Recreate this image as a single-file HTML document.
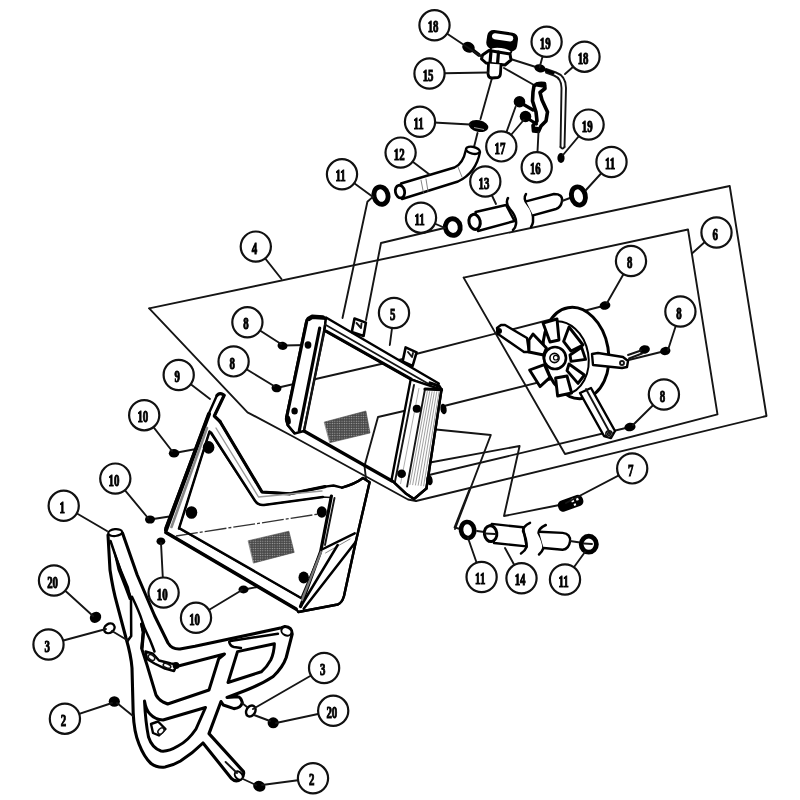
<!DOCTYPE html>
<html><head><meta charset="utf-8"><title>Radiator assembly diagram</title>
<style>
html,body{margin:0;padding:0;background:#fff;}
body{width:800px;height:800px;overflow:hidden;font-family:"Liberation Serif",serif;}
svg{display:block;filter:blur(0.35px)}
.ln{fill:none;stroke:#151515;stroke-width:1.9;stroke-linecap:round;stroke-linejoin:round}
.th{fill:none;stroke:#000;stroke-width:2.5;stroke-linecap:round;stroke-linejoin:round}
.tk{fill:none;stroke:#000;stroke-width:3.2;stroke-linecap:round;stroke-linejoin:round}
.wf{fill:#fff;stroke:#000;stroke-width:2.4;stroke-linecap:round;stroke-linejoin:round}
.wl{fill:#fff;stroke:#111;stroke-width:1.5;stroke-linecap:round;stroke-linejoin:round}
.co{fill:#fff;stroke:#111;stroke-width:2.2}
.bk{fill:#000;stroke:none}
.lb{font-family:"Liberation Serif",serif;font-weight:bold;font-size:16.2px;text-anchor:middle;fill:#000;stroke:#000;stroke-width:1}
.gy{fill:#8a8a8a;stroke:none}
.cl{fill:none;stroke:#333;stroke-width:1.3;stroke-dasharray:22 2 3 2}
</style></head><body>
<svg width="800" height="800" viewBox="0 0 800 800">
<defs>
<pattern id="mesh" width="2.4" height="2.4" patternUnits="userSpaceOnUse"><rect width="2.4" height="2.4" fill="#484848"/><circle cx="1.2" cy="1.2" r="0.65" fill="#a8a8a8"/></pattern>
</defs>
<rect width="800" height="800" fill="#fff"/>
<path d="M149.2,308.4 L729.7,186 L766.5,416 L416,501" class="ln"/>
<path d="M149.2,308.4 L247.5,412.3 L293,436.5 L408,499.5 L416,501" class="ln"/>
<path d="M463.6,277.6 L688,229.5 L717.5,414.3 L565,454 L463.6,277.6" class="ln"/>
<line x1="414" y1="354.5" x2="605" y2="305.5" class="ln"/>
<line x1="442" y1="406.5" x2="665" y2="351" class="ln"/>
<line x1="429" y1="475" x2="630" y2="427" class="ln"/>
<line x1="492" y1="78" x2="480.5" y2="119" class="ln"/>
<line x1="477.5" y1="133" x2="474" y2="147" class="ln"/>
<line x1="509" y1="58.5" x2="539" y2="68" class="ln"/>
<line x1="504" y1="68" x2="534" y2="85" class="ln"/>
<g transform="rotate(8 502 40)">
<rect x="488" y="32.5" width="28.5" height="16.5" rx="5" ry="5" style="fill:#000;stroke:#000;stroke-width:2.5"/>
<rect x="491.5" y="34.3" width="21.5" height="6" rx="3" ry="3" style="fill:#fff;stroke:none"/>
</g>
<ellipse cx="501" cy="50.5" rx="10.5" ry="3.2" transform="rotate(8 501 50.5)" style="fill:#fff;stroke:#000;stroke-width:1.6"/>
<path d="M482.5,55 L489,50.5 L510,54 L511,60 L505,65 L486,63 L481.5,59 Z" class="wf" style="stroke-width:3"/>
<path d="M491,51 L490,63 M498.5,52 L497.5,64" class="tk"/>
<path d="M488.5,63.5 L488,74 Q488.5,78 492,78 L498,77.5 Q500.5,76.5 500.5,73 L501,64.5" class="wf" style="stroke-width:2.8"/>
<ellipse cx="468.5" cy="47.3" rx="6.3999999999999995" ry="5.3" transform="rotate(25 468.5 47.3)" class="bk"/>
<path d="M470,48 L479,55" class="tk" style="stroke-width:3.6"/>
<ellipse cx="540" cy="68.3" rx="5.8" ry="4.0" transform="rotate(15 540 68.3)" class="bk"/>
<path d="M546,69 L556,72.5 Q566,76 566,88 L564.5,147" class="ln"/>
<path d="M546,72.5 L554,75.5 Q561.5,78.5 561.5,88 L560.5,147" class="ln"/>
<path d="M546,70.5 L553,73" class="tk"/>
<path d="M560.5,147 Q562.5,150 564.5,147" class="ln"/>
<ellipse cx="561" cy="158" rx="3.5999999999999996" ry="5.0" transform="rotate(0 561 158)" class="bk"/>
<path d="M534,86 Q537,82.5 544.5,83.5 L545,88.5 L540,92.5 L542,100 L547.5,112 L546,121 L541,126 L538.5,131.5 L533.5,131 L533,125.5 L537,121 L536,112 L532.5,101 L533,92 Z" class="tk" style="stroke-width:3.6;fill:#fff"/>
<path d="M537.5,84.5 L544,85.5" class="tk" style="stroke-width:4.5"/>
<path d="M534.5,128.5 L538,129" class="tk" style="stroke-width:4"/>
<ellipse cx="519.5" cy="101.8" rx="5.8" ry="5.7" transform="rotate(0 519.5 101.8)" class="bk"/>
<path d="M521,103 L533,110" class="tk"/>
<ellipse cx="525.5" cy="116.5" rx="5.8" ry="5.7" transform="rotate(0 525.5 116.5)" class="bk"/>
<path d="M527,118 L536.5,124" class="tk"/>
<ellipse cx="478.5" cy="126" rx="10" ry="5.8" transform="rotate(12 478.5 126)" class="bk"/>
<path d="M474,127.5 L484,129.5" style="stroke:#999;stroke-width:1;fill:none"/>
<path d="M401,183.5 L454.5,167.5 Q463,164 466,149.5 L480,152 Q476,173 458,181.5 L402,199 Z" class="wf"/>
<ellipse cx="472.9" cy="150.3" rx="7" ry="3.4" transform="rotate(12 472.9 150.3)" style="fill:#fff;stroke:#000;stroke-width:2.4"/>
<ellipse cx="400" cy="191.6" rx="4.6" ry="6.4" transform="rotate(-12 400 191.6)" style="fill:#fff;stroke:#000;stroke-width:2.8"/>
<path d="M421,180 L423.5,193 M426,179 L428,191.5" class="ln" style="stroke:#666;stroke-width:0.8"/>
<path d="M458,167 L462,177" class="ln" style="stroke:#666;stroke-width:0.8"/>
<ellipse cx="381" cy="195.6" rx="7.0" ry="8.8" transform="rotate(-15 381 195.6)" style="fill:#fff;stroke:#000;stroke-width:4.9"/>
<ellipse cx="452.8" cy="227.1" rx="7.4" ry="8.3" transform="rotate(-10 452.8 227.1)" style="fill:#fff;stroke:#000;stroke-width:4.9"/>
<path d="M475.5,212 L506,205 L514.5,221 L478,231 Z" class="wf"/>
<ellipse cx="474.6" cy="221.9" rx="5.6" ry="7.6" transform="rotate(-12 474.6 221.9)" style="fill:#fff;stroke:#000;stroke-width:3"/>
<path d="M508,198 Q505,203 510,209 Q517,217 516,224 Q515.5,228 513,230" class="th"/>
<path d="M526,194 Q522.5,199 528,205 Q534,212 533,222 Q532.5,225 531,227" class="th"/>
<path d="M526,201.3 L554,194 Q563,194 562,201 Q561,207.5 556,209 L533,215.3" class="wf"/>
<line x1="562" y1="201" x2="570" y2="198" class="ln"/>
<ellipse cx="578.4" cy="196" rx="6.9" ry="9.2" transform="rotate(-14 578.4 196)" style="fill:#fff;stroke:#000;stroke-width:4.9"/>
<path d="M372,197.6 L367.4,201.8 L342.5,318" class="ln"/>
<path d="M444.4,228 L381,243 L366,320" class="ln"/>
<path d="M283,345.5 L308,345" class="ln"/>
<path d="M276.5,388 L405,358.5" class="ln"/>
<path d="M436,429.5 L490.8,435 L455,529" class="ln"/>
<path d="M430,462.5 L519.6,446 L504,516 L559.5,505" class="ln"/>
<path d="M404,411 L378,417 L364.5,466 L366,479" class="ln"/>
<path d="M306.5,320 L312,316.5 L321,317 L326,319.5 L324,331 L304,431 L294.5,433.5 L287.5,425 L286,419 Z" class="wf"/>
<path d="M319.7,328 L299.3,430.5" class="tk"/>
<path d="M324.4,332 L303.8,430.5" class="ln"/>
<path d="M306.6,322 L286.5,418" class="tk"/>
<path d="M308.5,319 L312,316.8 L323,317.5" class="tk" style="stroke-width:4.5"/>
<path d="M286.5,419 L288,425.5 L294.5,433" class="th"/>
<path d="M326,317.5 L438.8,383.5 L436,389 L410.7,379 L324.5,330.5 Z" class="wf"/>
<path d="M325,324.5 L430.5,385" class="ln"/>
<path d="M326,331.2 L410.7,378.8" class="tk"/>
<path d="M304,431 L392,481" class="tk"/>
<path d="M410.7,379.4 L441.5,389.6 L426.4,488.5 L414,499 L405.8,493.5 L391.5,480 Z" class="wf"/>
<path d="M414,385 L394.8,482.5 M425,389 L407.1,486.6" class="ln"/>
<line x1="427.4" y1="391.1" x2="409.9" y2="484.9" style="stroke:#888;stroke-width:0.8"/>
<line x1="429.7" y1="391.2" x2="412.6" y2="485.1" style="stroke:#888;stroke-width:0.8"/>
<line x1="432.1" y1="391.3" x2="415.4" y2="485.4" style="stroke:#888;stroke-width:0.8"/>
<line x1="434.4" y1="391.3" x2="418.1" y2="485.7" style="stroke:#888;stroke-width:0.8"/>
<line x1="436.8" y1="391.4" x2="420.9" y2="486.0" style="stroke:#888;stroke-width:0.8"/>
<line x1="439.1" y1="391.5" x2="423.6" y2="486.2" style="stroke:#888;stroke-width:0.8"/>
<line x1="419" y1="388" x2="400.5" y2="484" style="stroke:#999;stroke-width:0.8"/>
<path d="M425,389 L441.5,389.6" class="tk"/>
<path d="M441.5,389.6 L426.4,488.5" class="th"/>
<path d="M430,383 L439,386 L441.5,390" class="tk"/>
<path d="M391.5,480 L405.8,493.5 L414,499 L426.4,488.5" class="th"/>
<ellipse cx="443.5" cy="409" rx="5.3" ry="3.0999999999999996" transform="rotate(80 443.5 409)" class="bk"/>
<ellipse cx="429.5" cy="480" rx="5.3" ry="3.0999999999999996" transform="rotate(80 429.5 480)" class="bk"/>
<ellipse cx="288" cy="420" rx="4.8" ry="2.7" transform="rotate(80 288 420)" class="bk"/>
<path d="M354.5,318.5 L365.9,322.6 L363.6,336 L351.8,332 Z" class="wf" style="stroke-width:2.6"/>
<path d="M405.6,347.4 L416.6,352.4 L412.6,366 L402.6,361.5 Z" class="wf" style="stroke-width:2.6"/>
<path d="M356.5,323 L361,328 L361.5,323.5 M408,352 L412,357 L413,353" class="ln"/>
<ellipse cx="308" cy="345" rx="3.4000000000000004" ry="3.7" transform="rotate(0 308 345)" class="bk"/>
<ellipse cx="294.6" cy="411" rx="3.2" ry="3.5" transform="rotate(0 294.6 411)" class="bk"/>
<ellipse cx="416.8" cy="408.8" rx="4.1" ry="4.0" transform="rotate(0 416.8 408.8)" class="bk"/>
<ellipse cx="401.6" cy="473.7" rx="4.4" ry="4.3" transform="rotate(0 401.6 473.7)" class="bk"/>
<path d="M324.6,422 L365.9,411 L370,433 L330.1,442.6 Z" class="ln" style="fill:url(#mesh);stroke:#444;stroke-width:0.6"/>
<ellipse cx="282.5" cy="345.8" rx="5.0" ry="4.1" transform="rotate(10 282.5 345.8)" class="bk"/>
<ellipse cx="276.5" cy="388.2" rx="5.0" ry="4.1" transform="rotate(10 276.5 388.2)" class="bk"/>
<ellipse cx="576" cy="353" rx="32.4" ry="46" transform="rotate(-10 576 353)" style="fill:#fff;stroke:#000;stroke-width:3"/>
<path d="M0,-37 A29,37 0 0 1 0,37" transform="translate(559.5,358) rotate(-10)" style="fill:none;stroke:#000;stroke-width:2"/>
<path d="M497.0,328.0 L501.0,325.0 L505.0,325.0 L527.0,338.0 L529.0,352.0 L524.0,352.0 L498.0,334.0 Z" class="wf"/>
<ellipse cx="499.0" cy="331.0" rx="3.0" ry="2.9000000000000004" transform="rotate(0 499.0 331.0)" class="bk"/>
<path d="M592.0,354.0 L598.0,353.0 L623.0,357.0 L628.0,361.0 L627.0,367.0 L622.0,368.0 L593.0,365.0 Z" class="wf"/>
<circle cx="622.0" cy="363.0" r="2" class="ln"/>
<path d="M580.0,393.0 L591.0,388.0 L615.0,431.0 L611.0,438.0 L604.0,436.0 Z" class="wf"/>
<circle cx="609.0" cy="434.0" r="3.2" class="wl"/>
<circle cx="609.0" cy="434.0" r="1.4" class="ln"/>
<path d="M586.0,389.0 L610.0,433.0" class="ln"/>
<path d="M543.0,323.0 L557.0,319.0 L559.0,340.0 L550.0,342.0 Z" class="wf" style="stroke-width:2.9"/>
<path d="M569.0,327.0 L583.0,345.0 L571.0,351.0 L563.6,341.4 Z" class="wf" style="stroke-width:2.9"/>
<path d="M570.0,355.0 L581.6,347.4 L585.6,359.4 L571.0,361.4 Z" class="wf" style="stroke-width:2.9"/>
<path d="M569.0,364.0 L584.4,375.0 L578.0,383.4 L567.0,370.6 Z" class="wf" style="stroke-width:2.9"/>
<path d="M555.6,378.0 L567.0,376.0 L571.6,393.0 L557.6,396.0 Z" class="wf" style="stroke-width:2.9"/>
<path d="M529.6,370.0 L544.4,364.6 L550.0,377.4 L540.0,386.6 Z" class="wf" style="stroke-width:2.9"/>
<path d="M529.0,340.0 L533.0,334.0 L546.4,348.0 L543.6,355.0 L529.0,352.0 Z" class="wf" style="stroke-width:2.9"/>
<circle cx="555.0" cy="358.0" r="11" style="fill:#fff;stroke:#000;stroke-width:2.6"/>
<circle cx="554.5" cy="358.0" r="4.6" style="fill:#fff;stroke:#000;stroke-width:1.6"/>
<circle cx="555.8" cy="357.7" r="2.3" style="fill:#fff;stroke:#000;stroke-width:1.1"/>
<ellipse cx="605" cy="305.5" rx="5.3999999999999995" ry="4.3" transform="rotate(-10 605 305.5)" class="bk"/>
<ellipse cx="644.5" cy="349.5" rx="5.3999999999999995" ry="4.3" transform="rotate(-10 644.5 349.5)" class="bk"/>
<ellipse cx="665.3" cy="351" rx="5.2" ry="4.1" transform="rotate(-10 665.3 351)" class="bk"/>
<ellipse cx="630" cy="427" rx="5.6" ry="4.3" transform="rotate(-10 630 427)" class="bk"/>
<path d="M628,355 L641,350.5 M629,358.5 L642,353.5" class="ln"/>
<line x1="150" y1="519.5" x2="192" y2="513" class="ln"/>
<line x1="174.5" y1="453" x2="207" y2="447" class="ln"/>
<line x1="244" y1="589.5" x2="300" y2="579" class="ln"/>
<path d="M208.6,414 L217,395.3 Q220,392 224.2,395.3 L214.3,416 L220,421.5 L262,492 L290,493.8 L325,486.6 L333.5,485.5 L342,487.6 Q355,484 363,478 L369.6,482.3 L355.8,541.8 L344,596 Q342,603 337.7,604.5 L298.4,612 L296,609 L166,532.5 L165.5,528 Z" class="wf"/>
<path d="M209.5,431.5 L255,500.8 Q258,505.5 264,505 L322.9,497 L331,497.5 L320.7,551.4 L301,598 L179,528.5 Z" class="wl"/>
<line x1="176" y1="536" x2="319" y2="514" class="cl"/>
<path d="M209.5,431.5 L179,528.5" class="th"/>
<path d="M209,414 L166,530" class="tk" style="stroke-width:4"/>
<path d="M220,421.5 L262,492 L290,493.8 L325,486.6" class="tk"/>
<path d="M211,432.5 L255,500.8 Q258,505.5 264,505 L322.9,497" class="th"/>
<path d="M217,395.3 Q220,392 224.2,395.3 L214.3,416 L220,421.5" class="tk"/>
<path d="M166,532.5 L296,609" class="tk" style="stroke-width:3.6"/>
<path d="M180,528.5 L301,598" class="th"/>
<path d="M331.4,496 L320.7,551.4 L300.5,606.6" class="tk"/>
<path d="M334.5,498 L325,545" class="ln"/>
<path d="M342,487.6 Q355,484 363,478 L369.6,482.3 L355.8,541.8 L344,596 Q342,603 337.7,604.5 L298.4,612" class="th"/>
<path d="M207,428 L171.5,527" class="ln" style="stroke:#888;stroke-width:2.6"/>
<path d="M216,428 L258.5,497 L322,491" class="ln" style="stroke:#999;stroke-width:1.4"/>
<path d="M322.9,549 L354.7,533.3" class="th"/>
<path d="M325.5,553 L350,539" class="ln" style="stroke:#888;stroke-width:1"/>
<path d="M337.7,545 L301,606 M355.8,541.8 L303.7,608.7" class="th"/>
<path d="M321,552 L302,600" class="ln" style="stroke:#777;stroke-width:2.2"/>
<ellipse cx="208.6" cy="447.4" rx="5.8" ry="6.3" transform="rotate(0 208.6 447.4)" class="bk"/>
<ellipse cx="191.5" cy="512.5" rx="5.8" ry="6.3" transform="rotate(0 191.5 512.5)" class="bk"/>
<ellipse cx="321.8" cy="512" rx="5.0" ry="5.7" transform="rotate(0 321.8 512)" class="bk"/>
<ellipse cx="303.7" cy="577.5" rx="5.2" ry="6.1000000000000005" transform="rotate(0 303.7 577.5)" class="bk"/>
<path d="M248.5,540.7 L288.9,531.2 L294.2,552.4 L253.8,563 Z" class="ln" style="fill:url(#mesh);stroke:#444;stroke-width:0.6"/>
<ellipse cx="174" cy="453.3" rx="5.2" ry="4.3" transform="rotate(0 174 453.3)" class="bk"/>
<ellipse cx="150" cy="519.5" rx="5.0" ry="4.1" transform="rotate(0 150 519.5)" class="bk"/>
<ellipse cx="160.9" cy="541.3" rx="4.4" ry="3.9000000000000004" transform="rotate(0 160.9 541.3)" class="bk"/>
<ellipse cx="243.5" cy="589.5" rx="5.0" ry="3.9000000000000004" transform="rotate(0 243.5 589.5)" class="bk"/>
<path d="M108,535 L110,570 Q113,590 117,604 L126,638 Q131,655 132,668 L133.2,713 Q134,732 139,744 Q144,757 151,763.5 Q157,768 165,767 Q173,765.5 180.5,761 Q193,753 203,743 L231.6,778.7 Q236,783 241,779 Q244.5,775 243.5,771.6 L209,733.6 L221,701.5 L223.3,705 L234,708.6 Q241,708 242.3,702.5 Q241,697 237.5,696.7 L227,697.5 L244.7,690.8 Q262,684 273.2,676.5 Q283,667 286.2,657.5 L292.2,634 Q292,627 285,626.5 L281.5,627.8 L195,646.2 L180,649 Q172,649.5 168,643 L154.5,615.5 L137.2,575 L122.5,533 Z" class="wf" style="stroke-width:3.1"/>
<path d="M110.5,541 L121,572 L127,588 L131,598 L131.2,636 L127.5,641" class="th"/>
<path d="M111,541 L121.5,569 L129,587 L132,599.5 L129,600 L124.5,588 L117.5,570 Z" class="bk"/>
<path d="M132,596.8 Q139.5,612.5 141.8,620.0 Q144,627.5 147.0,633.5 Q150,639.5 152.2,645.5 L154.5,651.5" class="th"/>
<path d="M142,626 L143.2,632 L141.7,648.5 L147,665 L156,695 Q158,699 163,702 L167.7,704 L209,690 L218.7,658.8 L224.5,654 L178.3,666" class="th" style="stroke-width:3"/>
<path d="M141.5,624 L143.5,632 L142,648" class="tk"/>
<path d="M145.5,651.5 L153,653.7 L159,660.5 L171,663.5 L177,664.2 L174,671 L165,668.7 L154.5,663.5 L147,659 Z" class="wf"/>
<ellipse cx="151.5" cy="657.5" rx="3.6" ry="2.4" transform="rotate(35 151.5 657.5)" class="wl"/>
<ellipse cx="167" cy="665.8" rx="4" ry="2" transform="rotate(20 167 665.8)" class="wl"/>
<ellipse cx="176" cy="665.5" rx="3.4000000000000004" ry="3.5" transform="rotate(0 176 665.5)" class="bk"/>
<path d="M144.5,701 Q146,710 150,714 Q155,719.5 163,720 L205.5,707.5 L196,729 Q188,741 178,746 Q168,752 161,751 Q152,748 148.5,737 Q145.5,722 144.5,701 Z" class="th" style="stroke-width:3"/>
<path d="M151,724 L158,721.5 L165.5,729 L159,735.5 L153,733 Z" class="wf"/>
<ellipse cx="161" cy="731" rx="3.6" ry="2.4" transform="rotate(-45 161 731)" class="wl"/>
<path d="M237.5,651.6 L274.4,643.7 Q274,653 270.8,659.9 Q267,667 261.3,671.8 L228,682.5 Z" class="th" style="stroke-width:3"/>
<path d="M229.2,642 Q230,646 234,647 L241,648 M230.4,640.9 L277.9,633.8" class="th"/>
<ellipse cx="286.4" cy="631.4" rx="5.2" ry="4" transform="rotate(25 286.4 631.4)" style="fill:#fff;stroke:#000;stroke-width:2"/>
<ellipse cx="115.2" cy="532.6" rx="7" ry="3.4" transform="rotate(-5 115.2 532.6)" style="fill:#fff;stroke:#000;stroke-width:2.2"/>
<ellipse cx="238.7" cy="775.5" rx="3.4" ry="4.6" transform="rotate(-40 238.7 775.5)" style="fill:#fff;stroke:#000;stroke-width:2"/>
<path d="M225.6,762 L237,773" class="ln"/>
<ellipse cx="109.3" cy="628.3" rx="5.6" ry="4.4" transform="rotate(-35 109.3 628.3)" style="fill:#fff;stroke:#000;stroke-width:2.4"/>
<ellipse cx="250.8" cy="711" rx="4.4" ry="5.8" transform="rotate(30 250.8 711)" style="fill:#fff;stroke:#000;stroke-width:2.4"/>
<ellipse cx="95.5" cy="617.3" rx="6.0" ry="5.3" transform="rotate(-40 95.5 617.3)" class="bk"/>
<ellipse cx="114.3" cy="701.5" rx="5.6" ry="5.3" transform="rotate(0 114.3 701.5)" class="bk"/>
<ellipse cx="273.2" cy="722.8" rx="5.6" ry="5.5" transform="rotate(0 273.2 722.8)" class="bk"/>
<ellipse cx="259.3" cy="786.3" rx="6.2" ry="5.3" transform="rotate(20 259.3 786.3)" class="bk"/>
<line x1="112" y1="631" x2="127" y2="640" class="ln"/>
<line x1="117" y1="703" x2="133" y2="716" class="ln"/>
<line x1="242" y1="703" x2="247" y2="707" class="ln"/>
<line x1="254" y1="715" x2="270" y2="721" class="ln"/>
<line x1="243" y1="779" x2="256" y2="785" class="ln"/>
<path d="M469.25,490 L454.6,527.3 L460,529" class="ln"/>
<line x1="499" y1="534" x2="477" y2="531" class="ln"/>
<ellipse cx="467.6" cy="530" rx="6.6" ry="8" transform="rotate(-8 467.6 530)" style="fill:#fff;stroke:#000;stroke-width:4.6"/>
<path d="M491.8,523.9 L523,527.3 L526.6,546.4 L494,543 Z" class="wf"/>
<ellipse cx="490.6" cy="533.6" rx="6.2" ry="8" transform="rotate(-8 490.6 533.6)" style="fill:#fff;stroke:#000;stroke-width:3"/>
<line x1="485" y1="533.5" x2="495" y2="534" class="ln"/>
<path d="M530,522.8 Q523,526 523,531 Q527,540 526.6,547 Q525,551 521,553.5" class="th"/>
<path d="M545.8,525 Q538.5,528.5 538.5,533 Q543.5,542 543.5,548 Q542,552 539,554.5" class="th"/>
<path d="M539,531.8 L562.6,532.9 Q571,534 570,541.5 Q569,549 562.6,549.8 L543.5,548" class="wf"/>
<line x1="570" y1="541" x2="580" y2="542.5" class="ln"/>
<ellipse cx="588.8" cy="544.2" rx="7.6" ry="8" transform="rotate(0 588.8 544.2)" style="fill:#fff;stroke:#000;stroke-width:4.8"/>
<line x1="584" y1="543.5" x2="592" y2="544" class="ln"/>
<g transform="rotate(-20 570.5 503)"><rect x="557.5" y="497.5" width="26" height="11.5" rx="4.5" ry="5" class="bk"/><rect x="572" y="499.5" width="2.6" height="3.4" fill="#fff"/><rect x="577" y="500" width="2.4" height="3" fill="#fff"/><rect x="573" y="505" width="2.2" height="2" fill="#fff"/></g>
<line x1="434.5" y1="25.3" x2="482" y2="57" class="ln"/>
<line x1="429.5" y1="73.5" x2="488" y2="72.5" class="ln"/>
<line x1="420" y1="121.8" x2="470" y2="124.5" class="ln"/>
<line x1="546.6" y1="41.8" x2="539.7" y2="67" class="ln"/>
<line x1="584.5" y1="56.7" x2="565" y2="74" class="ln"/>
<line x1="501.3" y1="146.4" x2="515.5" y2="107" class="ln"/>
<line x1="501.3" y1="146.4" x2="523.7" y2="120" class="ln"/>
<line x1="536.7" y1="167.2" x2="538.5" y2="132" class="ln"/>
<line x1="588.6" y1="124.6" x2="563" y2="155" class="ln"/>
<line x1="611.5" y1="162" x2="586" y2="190" class="ln"/>
<line x1="485.3" y1="181.5" x2="496" y2="204" class="ln"/>
<line x1="400.6" y1="152.6" x2="429.5" y2="174.5" class="ln"/>
<line x1="342" y1="174.3" x2="373" y2="197" class="ln"/>
<line x1="421" y1="217.7" x2="445" y2="228" class="ln"/>
<line x1="255.8" y1="246.6" x2="281.5" y2="279" class="ln"/>
<line x1="716" y1="232" x2="692.5" y2="253" class="ln"/>
<line x1="631" y1="261" x2="607" y2="303" class="ln"/>
<line x1="680.4" y1="311.5" x2="668" y2="350" class="ln"/>
<line x1="663.9" y1="394.5" x2="633" y2="425" class="ln"/>
<line x1="632.2" y1="468.4" x2="566" y2="503" class="ln"/>
<line x1="394" y1="313" x2="389.8" y2="345" class="ln"/>
<line x1="247.4" y1="322.3" x2="281" y2="344" class="ln"/>
<line x1="233.6" y1="361.4" x2="274" y2="386" class="ln"/>
<line x1="178.7" y1="375" x2="210" y2="399" class="ln"/>
<line x1="144.2" y1="415.2" x2="172" y2="451" class="ln"/>
<line x1="115.3" y1="478.6" x2="148" y2="518" class="ln"/>
<line x1="63.7" y1="505.8" x2="107" y2="531" class="ln"/>
<line x1="54" y1="580.5" x2="93" y2="616" class="ln"/>
<line x1="48.5" y1="644.5" x2="106" y2="629" class="ln"/>
<line x1="64.9" y1="718.7" x2="112" y2="703" class="ln"/>
<line x1="163.6" y1="592.6" x2="161" y2="543" class="ln"/>
<line x1="196" y1="617.8" x2="242" y2="590" class="ln"/>
<line x1="324.1" y1="668" x2="253" y2="709" class="ln"/>
<line x1="333.2" y1="710.8" x2="276" y2="723" class="ln"/>
<line x1="313" y1="778.3" x2="262" y2="785" class="ln"/>
<line x1="481.6" y1="577" x2="468" y2="538" class="ln"/>
<line x1="521.5" y1="578.3" x2="505" y2="548" class="ln"/>
<line x1="565" y1="579.5" x2="585" y2="552" class="ln"/>
<circle cx="434.5" cy="25.3" r="15.1" class="co"/>
<text transform="translate(433.1,32.400000000000006) scale(0.67,1)" class="lb">18</text>
<circle cx="429.5" cy="73.5" r="15.1" class="co"/>
<text transform="translate(428.1,80.6) scale(0.67,1)" class="lb">15</text>
<circle cx="420" cy="121.8" r="15.1" class="co"/>
<text transform="translate(418.6,128.89999999999998) scale(0.67,1)" class="lb">11</text>
<circle cx="546.6" cy="41.8" r="15.1" class="co"/>
<text transform="translate(545.2,48.9) scale(0.67,1)" class="lb">19</text>
<circle cx="584.5" cy="56.7" r="15.1" class="co"/>
<text transform="translate(583.1,63.800000000000004) scale(0.67,1)" class="lb">18</text>
<circle cx="501.3" cy="146.4" r="15.1" class="co"/>
<text transform="translate(499.90000000000003,153.5) scale(0.67,1)" class="lb">17</text>
<circle cx="536.7" cy="167.2" r="15.1" class="co"/>
<text transform="translate(535.3000000000001,174.29999999999998) scale(0.67,1)" class="lb">16</text>
<circle cx="588.6" cy="124.6" r="15.1" class="co"/>
<text transform="translate(587.2,131.7) scale(0.67,1)" class="lb">19</text>
<circle cx="611.5" cy="162" r="15.1" class="co"/>
<text transform="translate(610.1,169.1) scale(0.67,1)" class="lb">11</text>
<circle cx="485.3" cy="181.5" r="15.1" class="co"/>
<text transform="translate(483.90000000000003,188.6) scale(0.67,1)" class="lb">13</text>
<circle cx="400.6" cy="152.6" r="15.1" class="co"/>
<text transform="translate(399.20000000000005,159.7) scale(0.67,1)" class="lb">12</text>
<circle cx="342" cy="174.3" r="15.1" class="co"/>
<text transform="translate(340.6,181.4) scale(0.67,1)" class="lb">11</text>
<circle cx="421" cy="217.7" r="15.1" class="co"/>
<text transform="translate(419.6,224.79999999999998) scale(0.67,1)" class="lb">11</text>
<circle cx="255.8" cy="246.6" r="15.1" class="co"/>
<text transform="translate(254.4,253.7) scale(0.67,1)" class="lb">4</text>
<circle cx="716.5" cy="232.5" r="15.1" class="co"/>
<text transform="translate(715.1,239.6) scale(0.67,1)" class="lb">6</text>
<circle cx="631" cy="261" r="15.1" class="co"/>
<text transform="translate(629.6,268.1) scale(0.67,1)" class="lb">8</text>
<circle cx="680.4" cy="311.5" r="15.1" class="co"/>
<text transform="translate(679.0,318.6) scale(0.67,1)" class="lb">8</text>
<circle cx="663.9" cy="394.5" r="15.1" class="co"/>
<text transform="translate(662.5,401.6) scale(0.67,1)" class="lb">8</text>
<circle cx="632.2" cy="468.4" r="15.1" class="co"/>
<text transform="translate(630.8000000000001,475.5) scale(0.67,1)" class="lb">7</text>
<circle cx="394" cy="313" r="15.1" class="co"/>
<text transform="translate(392.6,320.1) scale(0.67,1)" class="lb">5</text>
<circle cx="247.4" cy="322.3" r="15.1" class="co"/>
<text transform="translate(246.0,329.40000000000003) scale(0.67,1)" class="lb">8</text>
<circle cx="233.6" cy="361.4" r="15.1" class="co"/>
<text transform="translate(232.2,368.5) scale(0.67,1)" class="lb">8</text>
<circle cx="178.7" cy="375" r="15.1" class="co"/>
<text transform="translate(177.29999999999998,382.1) scale(0.67,1)" class="lb">9</text>
<circle cx="144.2" cy="415.2" r="15.1" class="co"/>
<text transform="translate(142.79999999999998,422.3) scale(0.67,1)" class="lb">10</text>
<circle cx="115.3" cy="478.6" r="15.1" class="co"/>
<text transform="translate(113.89999999999999,485.70000000000005) scale(0.67,1)" class="lb">10</text>
<circle cx="63.7" cy="505.8" r="15.1" class="co"/>
<text transform="translate(62.300000000000004,512.9000000000001) scale(0.67,1)" class="lb">1</text>
<circle cx="54" cy="580.5" r="15.1" class="co"/>
<text transform="translate(52.6,587.6) scale(0.67,1)" class="lb">20</text>
<circle cx="48.5" cy="644.5" r="15.1" class="co"/>
<text transform="translate(47.1,651.6) scale(0.67,1)" class="lb">3</text>
<circle cx="64.9" cy="718.7" r="15.1" class="co"/>
<text transform="translate(63.50000000000001,725.8000000000001) scale(0.67,1)" class="lb">2</text>
<circle cx="163.6" cy="592.6" r="15.1" class="co"/>
<text transform="translate(162.2,599.7) scale(0.67,1)" class="lb">10</text>
<circle cx="196" cy="617.8" r="15.1" class="co"/>
<text transform="translate(194.6,624.9) scale(0.67,1)" class="lb">10</text>
<circle cx="324.1" cy="668" r="15.1" class="co"/>
<text transform="translate(322.70000000000005,675.1) scale(0.67,1)" class="lb">3</text>
<circle cx="333.2" cy="710.8" r="15.1" class="co"/>
<text transform="translate(331.8,717.9) scale(0.67,1)" class="lb">20</text>
<circle cx="313" cy="778.3" r="15.1" class="co"/>
<text transform="translate(311.6,785.4) scale(0.67,1)" class="lb">2</text>
<circle cx="481.6" cy="577" r="15.1" class="co"/>
<text transform="translate(480.20000000000005,584.1) scale(0.67,1)" class="lb">11</text>
<circle cx="521.5" cy="578.3" r="15.1" class="co"/>
<text transform="translate(520.1,585.4) scale(0.67,1)" class="lb">14</text>
<circle cx="565" cy="579.5" r="15.1" class="co"/>
<text transform="translate(563.6,586.6) scale(0.67,1)" class="lb">11</text>
</svg></body></html>
